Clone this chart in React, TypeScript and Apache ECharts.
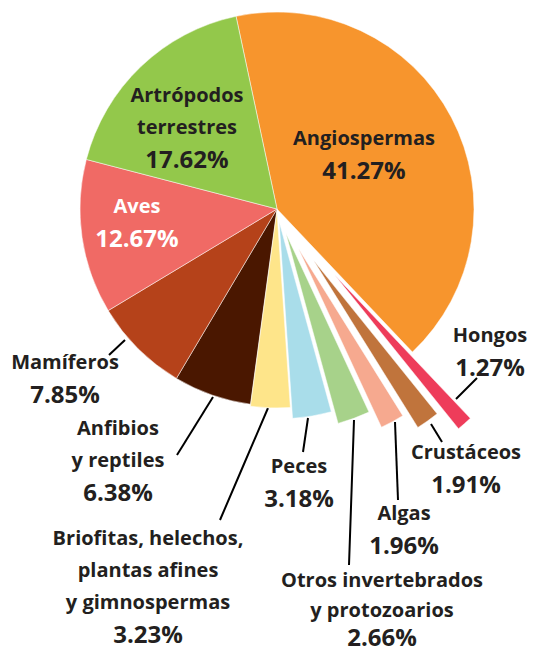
import React, { useEffect, useRef } from "react";
import * as echarts from "echarts";

// ---- data ----
const categories = [
  "Angiospermas",
  "Hongos",
  "Crustáceos",
  "Algas",
  "Otros invertebrados\ny protozoarios",
  "Peces",
  "Briofitas, helechos,\nplantas afines\ny gimnospermas",
  "Anfibios\ny reptiles",
  "Mamíferos",
  "Aves",
  "Artrópodos\nterrestres",
];
const percentages = [41.27, 1.27, 1.91, 1.96, 2.66, 3.18, 3.23, 6.38, 7.85, 12.67, 17.62];

// ---- styles / layout ----
const colors = [
  "#F7952D", "#EE3C5A", "#C0743C", "#F6A98F", "#A7D28A", "#A9DDEA",
  "#FEE58A", "#4A1700", "#B5421A", "#F06A65", "#93C84B",
];
const explode = [0, 88, 63, 45, 26, 13, 2, 0, 0, 0, 0];
const labelColors = ["#231F20", "#231F20", "#231F20", "#231F20", "#231F20", "#231F20", "#231F20", "#231F20", "#231F20", "#FFFFFF", "#231F20"];
const nameLineHeights = [32, 32, 32, 32, 30, 32, 32, 32, 32, 32, 32];
const valueLineHeights = [32, 32, 32, 32, 24, 32, 32, 32, 32, 32, 32];
const labelAnchors: [number, number][] = [
  [364, 153], [490, 350], [466, 467], [404, 528], [382, 606], [299, 481],
  [148, 585], [118, 459], [65, 377], [137, 221], [187, 126],
];
const leaderLines: ([number, number][] | null)[] = [
  null,
  [[477, 378], [456, 399]],
  [[431, 424], [442, 442]],
  [[395, 422], [398, 500]],
  [[354, 420], [349, 565]],
  [[308, 418], [303, 452]],
  [[268, 408], [220, 520]],
  [[213, 397], [177, 455]],
  [[125, 340], [109, 355]],
  null,
  null,
];

const CX = 277;
const CY = 209;
const R = 197;
const START = 102;
const FONT = "'Open Sans', 'Noto Sans', sans-serif";

const total = percentages.reduce((a, b) => a + b, 0);

function midAngle(i: number) {
  let cum = 0;
  for (let j = 0; j < i; j++) cum += percentages[j];
  const deg = START - (360 * (cum + percentages[i] / 2)) / total;
  return (deg * Math.PI) / 180;
}

function makeSeries(visible: (i: number) => boolean, center: [number, number]) {
  return {
    type: "pie",
    center,
    radius: R,
    startAngle: START,
    clockwise: true,
    avoidLabelOverlap: false,
    silent: true,
    emphasis: { disabled: true },
    label: { show: true, position: "outside", width: 250 },
    labelLine: { show: true, lineStyle: { color: "#000", width: 2 }, smooth: false },
    labelLayout: (p: any) => {
      const i = p.dataIndex;
      if (!visible(i)) return {};
      const a = labelAnchors[i];
      const out: any = { x: a[0], y: a[1], align: "center", verticalAlign: "middle" };
      const ln = leaderLines[i];
      if (ln) {
        const m: [number, number] = [(ln[0][0] + ln[1][0]) / 2, (ln[0][1] + ln[1][1]) / 2];
        out.labelLinePoints = [ln[0], m, ln[1]];
      }
      return out;
    },
    data: categories.map((name, i) => {
      const value = percentages[i];
      if (!visible(i)) {
        return {
          name,
          value,
          itemStyle: { color: "rgba(0,0,0,0)", borderWidth: 0 },
          label: { show: false },
          labelLine: { show: false },
        };
      }
      const c = labelColors[i];
      const lines = name.split("\n").map((l) => `{n|${l}}`).join("\n");
      return {
        name,
        value,
        itemStyle: { color: colors[i], borderColor: "#ffffff", borderWidth: 0.5 },
        label: {
          show: true,
          position: "outside",
          width: 250,
          formatter: `${lines}\n{v|${value.toFixed(2)}%}`,
          rich: {
            n: { fontFamily: FONT, fontWeight: 700, fontSize: 20, lineHeight: nameLineHeights[i], color: c, align: "center" },
            v: { fontFamily: FONT, fontWeight: 700, fontSize: 24, lineHeight: valueLineHeights[i], color: c, align: "center" },
          },
        },
        labelLine: { show: !!leaderLines[i], lineStyle: { color: "#000", width: 2 } },
      };
    }),
  };
}

function buildOption() {
  const series: any[] = [];
  series.push(makeSeries((i) => explode[i] === 0, [CX, CY]));
  percentages.forEach((_, i) => {
    if (explode[i] > 0) {
      const a = midAngle(i);
      const c: [number, number] = [CX + explode[i] * Math.cos(a), CY - explode[i] * Math.sin(a)];
      series.push(makeSeries((k) => k === i, c));
    }
  });
  return {
    animation: false,
    backgroundColor: "#ffffff",
    series,
  };
}

export default function App() {
  const ref = useRef<HTMLDivElement>(null);
  useEffect(() => {
    if (!ref.current) return;
    const chart = echarts.init(ref.current, null, { renderer: "svg" });
    chart.setOption(buildOption() as any);
    return () => chart.dispose();
  }, []);
  return (
    <div
      ref={ref}
      style={{ position: "fixed", left: 0, top: 0, width: 534, height: 651, background: "#fff" }}
    />
  );
}
